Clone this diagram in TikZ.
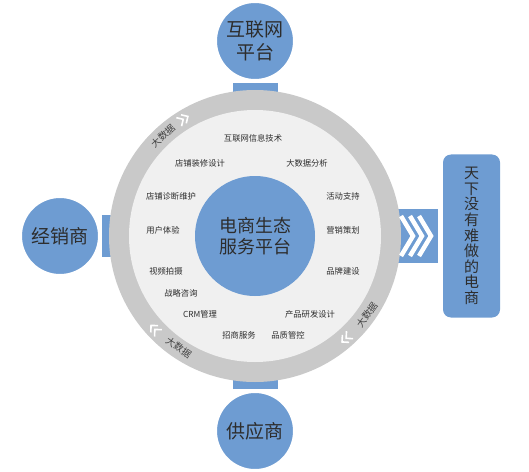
\documentclass[tikz,border=0pt]{standalone}
\usepackage{fontspec}
\newfontfamily\cjk{Noto Sans CJK SC}
\usetikzlibrary{backgrounds}
\definecolor{ecblue}{RGB}{110,156,210}
\definecolor{ecring}{RGB}{201,201,201}
\definecolor{ecdisc}{RGB}{240,240,240}
\definecolor{ecdark}{RGB}{45,45,45}

\begin{document}
\begin{tikzpicture}[x=1pt, y=1pt,
			every node/.style = {font=\cjk, text=ecdark, align=center, inner sep=0pt},
			sat/.style = {circle, fill=ecblue, draw=white, line width=4pt, minimum size=80pt,
				font=\cjk\fontsize{19}{23}\selectfont},
			item/.style = {font=\cjk\fontsize{8.3}{10}\selectfont},
			bigdata/.style = {font=\cjk\fontsize{9.5}{10}\selectfont, text=ecdark!90},
			bar/.style = {ecblue, line width=#1},
			chev/.style = {white, line width=1.6pt}]
			\useasboundingbox (-255,-235) rectangle (274,236);
			\node[circle, fill=ecring, minimum size=292pt] (ring) at (0,0) {};
			\node[circle, fill=ecdisc, minimum size=252pt] (disc) at (0,0) {};
			\node[circle, fill=ecblue, minimum size=120pt, font=\cjk\fontsize{18}{21}\selectfont] (hub) at (0,0) {电商生态\\服务平台};
			\node[sat] (net) at (0,195) {互联网\\平台};
			\node[sat] (dealer) at (-195,0) {经销商};
			\node[sat] (supplier) at (0,-195) {供应商};
			\node[rectangle, rounded corners=8pt, fill=ecblue, minimum width=57pt, minimum height=163pt,
				font=\cjk\fontsize{15}{15.6}\selectfont] (panel) at (216.5,0) {天\\下\\没\\有\\难\\做\\的\\电\\商};
			\begin{scope}[on background layer]
				\draw[bar=45pt] (net) -- (ring.center);
				\draw[bar=45pt] (supplier) -- (ring.center);
				\draw[bar=42pt] (dealer) -- (ring.center);
				\draw[bar=54pt] (ring.center) -- ([xshift=-5pt]panel.west);
			\end{scope}
			\foreach \x in {0,9,18}
				\draw[white, line width=4.5pt] (146+\x,20) -- (158+\x,0) -- (146+\x,-20);
			\node[item] (i1) at (-2,98) {互联网信息技术};
			\node[item] (i2) at (-55,73) {店铺装修设计};
			\node[item] (i3) at (52,73) {大数据分析};
			\node[item] (i4) at (-84,40) {店铺诊断维护};
			\node[item] (i5) at (88,40) {活动支持};
			\node[item] (i6) at (-92,6) {用户体验};
			\node[item] (i7) at (88,6) {营销策划};
			\node[item] (i8) at (-89,-35) {视频拍摄};
			\node[item] (i9) at (88,-35) {品牌建设};
			\node[item] (i10) at (-74,-57) {战略咨询};
			\node[item] (i11) at (-55,-78) {CRM管理};
			\node[item] (i12) at (55,-78) {产品研发设计};
			\node[item] (i13) at (-16,-99) {招商服务};
			\node[item] (i14) at (33,-99) {品质管控};
			\node[bigdata, rotate=42.6] (bd1) at (132.6:136) {大数据};
			\node[bigdata, rotate=-34.4] (bd2) at (235.6:135) {大数据};
			\node[bigdata, rotate=54.8] (bd3) at (324.8:137) {大数据};
			\foreach \a/\r in {121.6/31.6, 223/133, 311.7/221.7} {
				\begin{scope}[shift={(\a:137)}, rotate=\r]
					\draw[chev] (-5,5) -- (0,0) -- (-5,-5) (0.5,5) -- (5.5,0) -- (0.5,-5);
				\end{scope}
			}
		\end{tikzpicture}
\end{document}
